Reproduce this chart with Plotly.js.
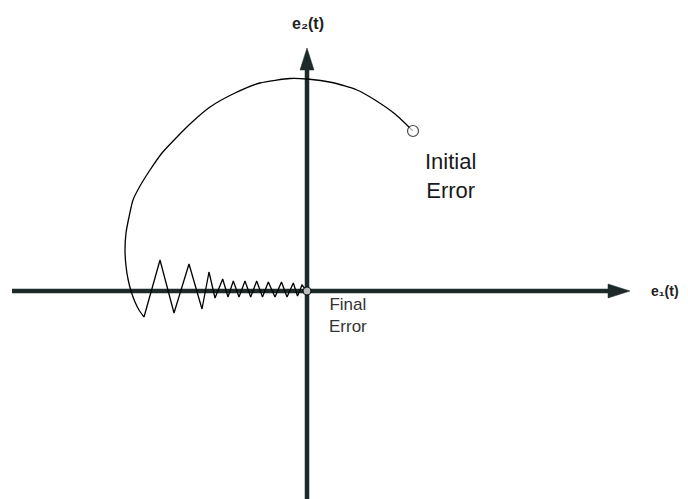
<!DOCTYPE html>
<html>
<head>
<meta charset="utf-8">
<script src="https://cdn.plot.ly/plotly-3.0.1.min.js"></script>
<style>
  html, body { margin: 0; padding: 0; background: #ffffff; }
  #plot { width: 688px; height: 499px; }
</style>
</head>
<body>
<div id="plot"></div>
<script>
// Error trajectory in the (e1, e2) phase plane.
// Reaching phase: a wide arc from the initial error down below the e1 axis.
const e1Arc = [1.06, 0.88, 0.68, 0.50, 0.25, 0.00, -0.17, -0.47, -0.72, -0.97, -1.17, -1.30, -1.45,
               -1.57, -1.67, -1.74, -1.78, -1.81, -1.82, -1.81, -1.79, -1.76, -1.72, -1.68, -1.63];
const e2Arc = [1.60, 1.77, 1.91, 2.01, 2.085, 2.12, 2.125, 2.08, 1.98, 1.84, 1.67, 1.54, 1.38,
               1.21, 1.05, 0.91, 0.74, 0.58, 0.41, 0.25, 0.12, 0.00, -0.11, -0.19, -0.26];

// Sliding phase: chattering along the e1 axis toward the origin.
const e1Chatter = [-1.47, -1.33, -1.18, -1.05, -0.98, -0.92, -0.843, -0.79, -0.737, -0.68,
                   -0.62, -0.563, -0.503, -0.445, -0.387, -0.32, -0.255, -0.20, -0.137, -0.095,
                   -0.05, 0.00];
const e2Chatter = [0.31, -0.22, 0.27, -0.18, 0.19, -0.07, 0.12, -0.06, 0.10, -0.06,
                   0.10, -0.06, 0.10, -0.06, 0.09, -0.06, 0.09, -0.06, 0.08, -0.05,
                   0.06, 0.00];

// Marked states
const initialError = { e1: 1.06, e2: 1.60 };
const finalError = { e1: 0.00, e2: 0.00 };

// Axis labels and annotations
const axisLabelE1 = 'e\u2081(t)';
const axisLabelE2 = 'e\u2082(t)';
const initialLabel = 'Initial<br>Error';
const finalLabel = 'Final<br>Error';

// Plane extent (axis arrows)
const e1AxisStart = -2.95, e1AxisTip = 3.23;
const e2AxisStart = -2.20, e2AxisTip = 2.43;

const axisColor = '#1e2a2a';
const headLen = 22, headHalf = 7;   // arrowhead size in pixels
const fontFamily = 'Liberation Sans, Arial, sans-serif';

const lastArc = e1Arc.length - 1;

const reaching = {
  x: e1Arc,
  y: e2Arc,
  mode: 'lines',
  type: 'scatter',
  line: { color: '#000000', width: 1.3, shape: 'spline', smoothing: 0.6 },
  hoverinfo: 'skip',
  showlegend: false
};

const sliding = {
  x: [e1Arc[lastArc]].concat(e1Chatter),
  y: [e2Arc[lastArc]].concat(e2Chatter),
  mode: 'lines',
  type: 'scatter',
  line: { color: '#000000', width: 1.3 },
  hoverinfo: 'skip',
  showlegend: false
};

const endpoints = {
  x: [initialError.e1, finalError.e1],
  y: [initialError.e2, finalError.e2],
  mode: 'markers',
  type: 'scatter',
  marker: { size: [11, 8], color: '#ffffff', line: { color: '#000000', width: 1.2 } },
  hoverinfo: 'skip',
  showlegend: false
};

const shapes = [
  // e1 axis shaft and arrowhead
  { type: 'line', xref: 'x', yref: 'y', x0: e1AxisStart, y0: 0, x1: e1AxisTip - 0.2, y1: 0,
    line: { color: axisColor, width: 4.5 }, layer: 'below' },
  { type: 'path', xref: 'x', yref: 'y', xsizemode: 'pixel', ysizemode: 'pixel',
    xanchor: e1AxisTip, yanchor: 0,
    path: `M ${-headLen},${-headHalf} L 0,0 L ${-headLen},${headHalf} Z`,
    fillcolor: axisColor, line: { color: axisColor, width: 0.5 }, layer: 'below' },
  // e2 axis shaft and arrowhead
  { type: 'line', xref: 'x', yref: 'y', x0: 0, y0: e2AxisStart, x1: 0, y1: e2AxisTip - 0.2,
    line: { color: axisColor, width: 4.5 }, layer: 'below' },
  { type: 'path', xref: 'x', yref: 'y', xsizemode: 'pixel', ysizemode: 'pixel',
    xanchor: 0, yanchor: e2AxisTip,
    path: `M ${-headHalf},${-headLen} L 0,0 L ${headHalf},${-headLen} Z`,
    fillcolor: axisColor, line: { color: axisColor, width: 0.5 }, layer: 'below' }
];

const annotations = [
  { x: 0.01, y: 2.68, xref: 'x', yref: 'y', text: '<b>' + axisLabelE2 + '</b>', showarrow: false,
    font: { family: fontFamily, size: 16, color: '#222222' } },
  { x: 3.58, y: 0.0, xref: 'x', yref: 'y', text: '<b>' + axisLabelE1 + '</b>', showarrow: false,
    font: { family: fontFamily, size: 14, color: '#222222' } },
  { x: 1.435, y: 1.155, xref: 'x', yref: 'y', text: initialLabel, showarrow: false,
    font: { family: fontFamily, size: 22, color: '#1a1a1a' } },
  { x: 0.405, y: -0.245, xref: 'x', yref: 'y', text: finalLabel, showarrow: false,
    font: { family: fontFamily, size: 17, color: '#333333' } }
];

const layout = {
  width: 688,
  height: 499,
  margin: { l: 0, r: 0, t: 0, b: 0 },
  paper_bgcolor: '#ffffff',
  plot_bgcolor: '#ffffff',
  xaxis: { range: [-3.07, 3.81], visible: false, fixedrange: true },
  yaxis: { range: [-2.08, 2.91], visible: false, fixedrange: true },
  shapes: shapes,
  annotations: annotations,
  showlegend: false
};

Plotly.newPlot('plot', [reaching, sliding, endpoints], layout, { displayModeBar: false });
</script>
</body>
</html>
